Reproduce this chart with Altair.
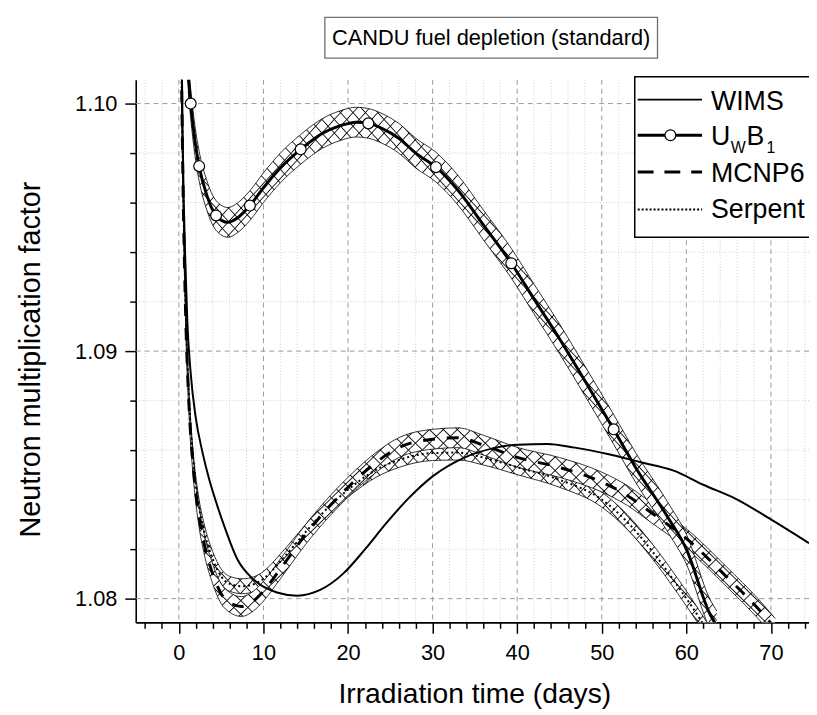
import altair as alt
import pandas as pd

FONT = "Liberation Sans"

# ---------------- data ----------------
X_DOMAIN = [-5.1, 74.5]
Y_DOMAIN = [1.07904, 1.10096]

wims_day = [0.35, 0.5, 0.75, 1.0, 1.4, 2.0, 2.8, 3.6, 4.5, 5.4, 6.9, 8.9, 11.6, 14.0, 16.7,
            19.4, 22.0, 24.5, 27.2, 30.0, 33.9, 37.0, 40.1, 43.6, 46.8, 50.7, 54.6, 58.5,
            62.0, 65.8, 69.8, 74.5]
wims_k = [1.1015, 1.0975, 1.0938, 1.0912, 1.0891, 1.0873, 1.0859, 1.0848, 1.0838, 1.0829,
          1.0816, 1.08075, 1.08025, 1.08012, 1.08035, 1.08100, 1.08199, 1.08304, 1.08407,
          1.08494, 1.08572, 1.08606, 1.08622, 1.08625, 1.0861, 1.08584, 1.08551, 1.08517,
          1.0846, 1.08404, 1.08324, 1.08224]

uwb_day = [1.1, 1.4, 1.9, 2.4, 3.3, 4.4, 5.8, 7.0, 8.4, 10, 12, 14.4, 17, 19, 21, 22.4, 24,
           26, 28, 30.4, 33, 36, 39.3, 42, 45, 48, 51.4, 54, 57.9, 60, 62.8, 63.6]
uwb_k = [1.1011, 1.1000, 1.0985, 1.09747, 1.0963, 1.09548, 1.0952, 1.0954, 1.09588, 1.0966,
         1.0974, 1.09815, 1.0988, 1.0991, 1.09925, 1.0992, 1.0990, 1.0986, 1.0980, 1.09743,
         1.0965, 1.0951, 1.09355, 1.0921, 1.0905, 1.0888, 1.08684, 1.0853, 1.08324, 1.0820,
         1.07937, 1.0789]
uwb_mark_day = [1.4, 2.4, 4.4, 8.4, 14.4, 22.4, 30.4, 39.3, 51.4]
uwb_mark_k = [1.1000, 1.09747, 1.09548, 1.09588, 1.09815, 1.0992, 1.09743, 1.09355, 1.08684]
uwb_err = 0.0006

mcnp_day = [0.3, 0.5, 0.8, 1.2, 1.7, 2.3, 3.0, 4.0, 5.0, 6.0, 7.4, 8.8, 10, 12, 15, 18, 20,
            23.3, 26, 30, 33, 36, 40, 45, 50, 53, 55.7, 60.4, 64.7, 68.6, 70.5]
mcnp_k = [1.1015, 1.0965, 1.0915, 1.0878, 1.0853, 1.0835, 1.0822, 1.0810, 1.0802, 1.07985,
          1.07968, 1.0799, 1.0803, 1.0812, 1.0826, 1.0838, 1.0845, 1.0855, 1.0861, 1.08644,
          1.0865, 1.0862, 1.08571, 1.0853, 1.08471, 1.08417, 1.08351, 1.08231, 1.0809,
          1.07955, 1.0788]
mcnp_err = 0.0004

serp_day = [0.3, 0.5, 0.8, 1.2, 1.7, 2.3, 3.0, 4.0, 5.0, 6.0, 7.5, 9, 10, 12, 15, 18, 20,
            23.3, 26, 30, 33, 36, 40, 45, 50, 53, 56, 59, 61, 62.5]
serp_k = [1.1015, 1.0968, 1.0918, 1.0881, 1.0856, 1.0839, 1.0827, 1.0816, 1.0809, 1.0806,
          1.0805, 1.0806, 1.0808, 1.0815, 1.0827, 1.0838, 1.0844, 1.0852, 1.0856, 1.08588,
          1.0859, 1.0857, 1.08531, 1.0848, 1.0840, 1.0831, 1.0819, 1.0805, 1.0795, 1.0787]
serp_err = 0.0003

major_x = [0, 10, 20, 30, 40, 50, 60, 70]
minor_x = [-4, -2, 2, 4, 6, 8, 12, 14, 16, 18, 22, 24, 26, 28, 32, 34, 36, 38, 42, 44, 46,
           48, 52, 54, 56, 58, 62, 64, 66, 68, 72, 74]
major_y = [1.08, 1.09, 1.10]
minor_y = [1.082, 1.084, 1.086, 1.088, 1.092, 1.094, 1.096, 1.098]

TITLE = "CANDU fuel depletion (standard)"
X_TITLE = "Irradiation time (days)"
Y_TITLE = "Neutron multiplication factor"

W, H = 680, 548

xs = alt.Scale(domain=X_DOMAIN, nice=False, zero=False)
ys = alt.Scale(domain=Y_DOMAIN, nice=False, zero=False)


def frame(days, ks, err=0.0):
    return pd.DataFrame({"day": days, "k": ks, "err": [err] * len(days)})


one = pd.DataFrame({"a": [0]})

# ---------------- grid + axes ----------------
minor_vgrid = alt.Chart(pd.DataFrame({"day": minor_x})).mark_rule(
    stroke="#cfcfcf", strokeWidth=1, strokeDash=[1, 2]
).encode(
    x=alt.X("day:Q", scale=xs, axis=alt.Axis(
        values=minor_x, orient="bottom", labels=False, domain=False, grid=False,
        tickSize=6, tickWidth=1.5, tickColor="black", title=None))
)
minor_hgrid = alt.Chart(pd.DataFrame({"k": minor_y})).mark_rule(
    stroke="#cfcfcf", strokeWidth=1, strokeDash=[1, 2]
).encode(
    y=alt.Y("k:Q", scale=ys, axis=alt.Axis(
        values=minor_y, orient="left", labels=False, domain=False, grid=False,
        tickSize=6, tickWidth=1.5, tickColor="black", title=None))
)
major_vgrid = alt.Chart(pd.DataFrame({"day": major_x})).mark_rule(
    stroke="#9a9a9a", strokeWidth=1, strokeDash=[5, 4]
).encode(
    x=alt.X("day:Q", scale=xs, axis=alt.Axis(
        values=major_x, orient="bottom", grid=False, tickSize=11, tickWidth=1.5,
        tickColor="black", domainColor="black", domainWidth=1.6,
        labelFont=FONT, labelFontSize=22, labelColor="black", labelPadding=9,
        title=X_TITLE, titleFont=FONT, titleFontSize=28.5, titleFontWeight="normal",
        titleColor="black", titleX=342, titleY=81, titleBaseline="alphabetic",
        titleAlign="center"))
)
major_hgrid = alt.Chart(pd.DataFrame({"k": major_y})).mark_rule(
    stroke="#9a9a9a", strokeWidth=1, strokeDash=[5, 4]
).encode(
    y=alt.Y("k:Q", scale=ys, axis=alt.Axis(
        values=major_y, format=".2f", orient="left", grid=False, tickSize=11,
        tickWidth=1.5, tickColor="black", domainColor="black", domainWidth=1.6,
        labelFont=FONT, labelFontSize=22, labelColor="black", labelPadding=8,
        title=Y_TITLE, titleFont=FONT, titleFontSize=29, titleFontWeight="normal",
        titleColor="black", titleX=-106, titleY=H / 2 + 8, titleAngle=270,
        titleBaseline="middle", titleAlign="center"))
)


# ---------------- cross-hatched bands ----------------
def hatch(direction, n=85, hw=0.0011):
    clear = "rgba(0,0,0,0)"
    stops = [alt.GradientStop(offset=0, color=clear)]
    for i in range(1, n):
        o = i / n
        stops += [alt.GradientStop(offset=o - hw, color=clear),
                  alt.GradientStop(offset=o, color="#111111"),
                  alt.GradientStop(offset=o + hw, color=clear)]
    stops.append(alt.GradientStop(offset=1, color=clear))
    if direction == 0:
        return alt.LinearGradient(gradient="linear", stops=stops, x1=0, y1=0, x2=1, y2=1)
    return alt.LinearGradient(gradient="linear", stops=stops, x1=1, y1=0, x2=0, y2=1)


def band(df):
    base = alt.Chart(df).transform_calculate(
        lo="datum.k - datum.err", hi="datum.k + datum.err")
    enc = dict(x=alt.X("day:Q", scale=xs, axis=None),
               y=alt.Y("lo:Q", scale=ys, axis=None), y2="hi:Q")
    layers = [base.mark_area(fill="white", interpolate="monotone", clip=True).encode(**enc)]
    for d in (0, 1):
        layers.append(base.mark_area(fill=hatch(d), interpolate="monotone",
                                     clip=True).encode(**enc))
    for f in ("lo", "hi"):
        layers.append(base.mark_line(stroke="black", strokeWidth=0.8,
                                     interpolate="monotone", clip=True).encode(
            x=alt.X("day:Q", scale=xs, axis=None), y=alt.Y(f + ":Q", scale=ys, axis=None)))
    return layers


def curve(df, width, dash=None):
    kw = dict(stroke="black", strokeWidth=width, interpolate="monotone", clip=True)
    if dash:
        kw["strokeDash"] = dash
    return alt.Chart(df).mark_line(**kw).encode(
        x=alt.X("day:Q", scale=xs, axis=None), y=alt.Y("k:Q", scale=ys, axis=None))


uwb_df = frame(uwb_day, uwb_k, uwb_err)
mcnp_df = frame(mcnp_day, mcnp_k, mcnp_err)
serp_df = frame(serp_day, serp_k, serp_err)
wims_df = frame(wims_day, wims_k)

markers = alt.Chart(frame(uwb_mark_day, uwb_mark_k)).mark_point(
    shape="circle", filled=True, fill="white", stroke="black", strokeWidth=1.2,
    size=120, opacity=1, clip=True
).encode(x=alt.X("day:Q", scale=xs, axis=None), y=alt.Y("k:Q", scale=ys, axis=None))

# ---------------- title box + legend (decoration) ----------------
title_box = alt.Chart(one).mark_rect(fill="white", stroke="#6e6e6e", strokeWidth=1.3).encode(
    x=alt.value(191), x2=alt.value(527), y=alt.value(-63), y2=alt.value(-22))
title_txt = alt.Chart(one).mark_text(text=TITLE, font=FONT, fontSize=22, color="black",
                                     align="center", baseline="middle").encode(
    x=alt.value(359), y=alt.value(-42))

leg_box = alt.Chart(one).mark_rect(fill="white", stroke="black", strokeWidth=1.5).encode(
    x=alt.value(504), x2=alt.value(700), y=alt.value(-3), y2=alt.value(159))


def leg_line(y, width, dash=None):
    kw = dict(color="black", strokeWidth=width)
    if dash:
        kw["strokeDash"] = dash
    return alt.Chart(one).mark_rule(**kw).encode(
        x=alt.value(507), x2=alt.value(572), y=alt.value(y))


def leg_text(txt, x, y, size=27):
    return alt.Chart(one).mark_text(text=txt, font=FONT, fontSize=size, color="black",
                                    align="left", baseline="alphabetic").encode(
        x=alt.value(x), y=alt.value(y))


leg_circle = alt.Chart(one).mark_point(shape="circle", filled=True, fill="white",
                                       stroke="black", strokeWidth=1.2, size=120,
                                       opacity=1).encode(
    x=alt.value(540), y=alt.value(56))

legend = [
    leg_box,
    leg_line(20, 2), leg_text("WIMS", 581, 30),
    leg_line(56, 3), leg_circle, leg_text("U", 581, 65.5), leg_text("W", 601, 74, 16),
    leg_text("B", 617, 65.5), leg_text("1", 637, 74, 16),
    leg_line(93, 3, [16, 11]), leg_text("MCNP6", 581, 103),
    leg_line(131, 2, [2, 2]), leg_text("Serpent", 581, 140),
]

layers = (
    [minor_vgrid, minor_hgrid, major_vgrid, major_hgrid]
    + band(serp_df) + band(mcnp_df) + band(uwb_df)
    + [curve(wims_df, 2), curve(serp_df, 2, [2, 3]), curve(mcnp_df, 3, [12, 12]),
       curve(uwb_df, 3), markers]
    + [title_box, title_txt]
    + legend
)

chart = alt.layer(*layers).resolve_axis(x="independent", y="independent").properties(
    width=W, height=H,
    autosize=alt.AutoSizeParams(type="none"),
    padding={"left": 129, "top": 69, "right": 0, "bottom": 90},
    background="white",
).configure_view(stroke=None)

chart.save("out.html", embed_options={"renderer": "svg", "actions": False})
